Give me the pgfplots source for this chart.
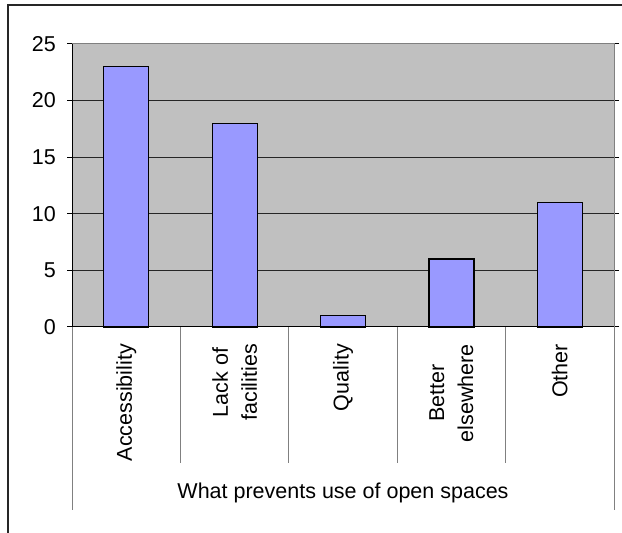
\documentclass[border=0pt]{standalone}
\usepackage{fontspec}
\setmainfont{Liberation Sans}
\usepackage{pgfplots}
\pgfplotsset{compat=1.18}
\definecolor{plotgray}{HTML}{C0C0C0}
\definecolor{barblue}{HTML}{9999FF}
\definecolor{framegray}{HTML}{808080}
\begin{document}
\begin{tikzpicture}[x=1bp,y=1bp,font=\fontsize{21.5bp}{29bp}\selectfont]
\path[use as bounding box] (0,0) rectangle (622,533);
\draw[line width=1.5bp, black!85] (8,0) -- (8,528) -- (622,528);
\begin{axis}[
  at={(72bp,206bp)}, anchor=south west,
  scale only axis, width=542bp, height=283bp,
  clip=false,
  xmin=-0.5, xmax=4.5, ymin=0, ymax=25,
  ytick={0,5,10,15,20,25}, xtick=\empty,
  ymajorgrids, grid style={black!85, line width=1bp},
  axis background/.style={fill=plotgray},
  axis line style={framegray, line width=1bp},
  tick align=outside, major tick length=5bp,
  ytick style={black, line width=1bp},
  yticklabel style={inner sep=0pt, xshift=-11bp},
  /pgf/number format/assume math mode=true,
  tick label style={font=\fontsize{21.5bp}{29bp}\selectfont},
  ybar, bar width=45bp,
]
\addplot[fill=barblue, draw=black, line width=1.2bp] coordinates {(0,23) (1,18) (2,1) (3,6) (4,11)};
\draw[framegray, line width=1bp] (axis cs:-0.5,0) -- ++(axis direction cs:0,-16.17);
\draw[framegray, line width=1bp] (axis cs:4.5,0) -- ++(axis direction cs:0,-16.17);
\draw[framegray, line width=1bp] (axis cs:0.5,0) -- ++(axis direction cs:0,-12.01);
\draw[framegray, line width=1bp] (axis cs:1.5,0) -- ++(axis direction cs:0,-12.01);
\draw[framegray, line width=1bp] (axis cs:2.5,0) -- ++(axis direction cs:0,-12.01);
\draw[framegray, line width=1bp] (axis cs:3.5,0) -- ++(axis direction cs:0,-12.01);
\draw[black, line width=1bp] (axis cs:-0.5,25) -- (axis cs:-0.5,0) -- (axis cs:4.5,0);
\path (axis cs:0,0) ++(axis direction cs:0,-1.5) node[rotate=90, anchor=east, align=center, inner sep=0pt] {Accessibility};
\path (axis cs:1,0) ++(axis direction cs:0,-1.5) node[rotate=90, anchor=east, align=center, inner sep=0pt] {Lack of\\facilities};
\path (axis cs:2,0) ++(axis direction cs:0,-1.5) node[rotate=90, anchor=east, align=center, inner sep=0pt] {Quality};
\path (axis cs:3,0) ++(axis direction cs:0,-1.5) node[rotate=90, anchor=east, align=center, inner sep=0pt] {Better\\elsewhere};
\path (axis cs:4,0) ++(axis direction cs:0,-1.5) node[rotate=90, anchor=east, align=center, inner sep=0pt] {Other};
\path (axis cs:2,0) ++(axis direction cs:0,-15.19) node[anchor=base, inner sep=0pt] {What prevents use of open spaces};
\end{axis}
\end{tikzpicture}
\end{document}
